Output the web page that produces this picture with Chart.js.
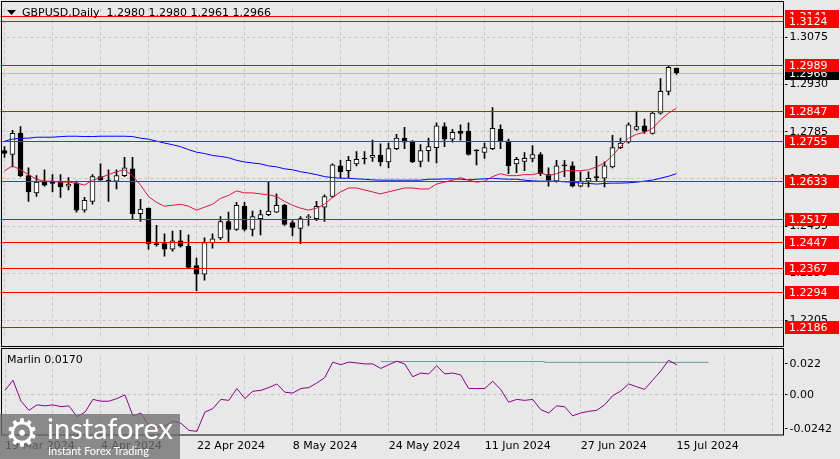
<!DOCTYPE html>
<html><head><meta charset="utf-8">
<script src="https://cdn.jsdelivr.net/npm/chart.js@4.4.1/dist/chart.umd.min.js"></script>
<style>
html,body{margin:0;padding:0;background:#e8e8e8;width:840px;height:459px;overflow:hidden;font-family:"DejaVu Sans",sans-serif;}
#main{position:absolute;left:0;top:0;}
#ind{position:absolute;left:0;top:348px;}
#wm{position:absolute;left:0;top:414px;width:180px;height:45px;background:rgba(112,112,112,0.78);color:#fff;overflow:hidden;}
#wm .gear{position:absolute;left:5px;top:-4px;font-size:38px;line-height:46px;font-family:"DejaVu Sans";}
#wm .brand{position:absolute;left:47px;top:-3px;font-size:29px;line-height:34px;font-family:Lato,"Open Sans",sans-serif;}
#wm .slogan{position:absolute;left:48px;top:30px;font-size:11px;line-height:13px;font-family:Lato,"Open Sans",sans-serif;}
</style></head>
<body>
<canvas id="main" width="840" height="348"></canvas>
<canvas id="ind" width="840" height="111"></canvas>
<div id="wm"><span class="gear">⚙</span><span class="brand">instaforex</span><span class="slogan">Instant Forex Trading</span></div>
<script>
// ---- data ----
const tradingDays = ["2024-03-19","2024-03-20","2024-03-21","2024-03-22","2024-03-25","2024-03-26","2024-03-27","2024-03-28","2024-03-29",
"2024-04-01","2024-04-02","2024-04-03","2024-04-04","2024-04-05","2024-04-08","2024-04-09","2024-04-10","2024-04-11","2024-04-12","2024-04-15","2024-04-16","2024-04-17","2024-04-18","2024-04-19","2024-04-22","2024-04-23","2024-04-24","2024-04-25","2024-04-26","2024-04-29","2024-04-30",
"2024-05-01","2024-05-02","2024-05-03","2024-05-06","2024-05-07","2024-05-08","2024-05-09","2024-05-10","2024-05-13","2024-05-14","2024-05-15","2024-05-16","2024-05-17","2024-05-20","2024-05-21","2024-05-22","2024-05-23","2024-05-24","2024-05-27","2024-05-28","2024-05-29","2024-05-30","2024-05-31",
"2024-06-03","2024-06-04","2024-06-05","2024-06-06","2024-06-07","2024-06-10","2024-06-11","2024-06-12","2024-06-13","2024-06-14","2024-06-17","2024-06-18","2024-06-19","2024-06-20","2024-06-21","2024-06-24","2024-06-25","2024-06-26","2024-06-27","2024-06-28",
"2024-07-01","2024-07-02","2024-07-03","2024-07-04","2024-07-05","2024-07-08","2024-07-09","2024-07-10","2024-07-11","2024-07-12","2024-07-15"];
const futureSlots = ["2024-07-16","2024-07-17","2024-07-18","2024-07-19","2024-07-22","2024-07-23","2024-07-24","2024-07-25","2024-07-26","2024-07-29","2024-07-30","2024-07-31","2024-08-01"];
const dateTickLabels = ["19 Mar 2024","4 Apr 2024","22 Apr 2024","8 May 2024","24 May 2024","11 Jun 2024","27 Jun 2024","15 Jul 2024"];
const dateTickEvery = 12;

const open = [1.2727,1.2715,1.2780,1.2650,1.2597,1.2630,1.2627,1.2630,1.2618,1.2627,
1.2544,1.2571,1.2647,1.2636,1.2633,1.2650,1.2671,1.2533,1.2550,1.2441,
1.2441,1.2424,1.2450,1.2433,1.2374,1.2347,1.2444,1.2459,1.2509,1.2485,
1.2556,1.2485,1.2518,1.2530,1.2538,1.2559,1.2506,1.2488,1.2521,1.2518,
1.2553,1.2586,1.2680,1.2665,1.2686,1.2704,1.2706,1.2712,1.2692,1.2733,
1.2765,1.2756,1.2694,1.2727,1.2736,1.2801,1.2762,1.2786,1.2786,1.2727,
1.2721,1.2733,1.2792,1.2756,1.2686,1.2694,1.2703,1.2715,1.2653,1.2633,
1.2681,1.2680,1.2618,1.2633,1.2647,1.2642,1.2677,1.2736,1.2753,1.2792,
1.2803,1.2780,1.2842,1.2909,1.2980];
const high = [1.2739,1.2789,1.2801,1.2674,1.2650,1.2668,1.2653,1.2653,1.2644,1.2633,
1.2583,1.2653,1.2686,1.2668,1.2668,1.2706,1.2706,1.2577,1.2550,1.2497,
1.2471,1.2480,1.2482,1.2468,1.2397,1.2459,1.2471,1.2524,1.2538,1.2568,
1.2568,1.2541,1.2544,1.2630,1.2594,1.2562,1.2512,1.2524,1.2530,1.2571,
1.2591,1.2686,1.2697,1.2709,1.2724,1.2724,1.2759,1.2748,1.2750,1.2777,
1.2798,1.2758,1.2745,1.2765,1.2812,1.2812,1.2792,1.2806,1.2812,1.2729,
1.2750,1.2859,1.2806,1.2762,1.2706,1.2721,1.2742,1.2721,1.2674,1.2697,
1.2697,1.2692,1.2662,1.2662,1.2709,1.2692,1.2774,1.2765,1.2812,1.2848,
1.2824,1.2845,1.2948,1.2986,1.2980];
const low = [1.2706,1.2677,1.2647,1.2571,1.2586,1.2618,1.2600,1.2583,1.2606,1.2538,
1.2538,1.2562,1.2636,1.2571,1.2609,1.2647,1.2518,1.2509,1.2424,1.2433,
1.2403,1.2418,1.2430,1.2366,1.2297,1.2329,1.2427,1.2453,1.2447,1.2482,
1.2480,1.2465,1.2468,1.2527,1.2536,1.2497,1.2465,1.2441,1.2497,1.2512,
1.2509,1.2583,1.2644,1.2644,1.2680,1.2686,1.2694,1.2680,1.2674,1.2730,
1.2733,1.2690,1.2677,1.2694,1.2689,1.2739,1.2753,1.2759,1.2713,1.2683,
1.2703,1.2730,1.2733,1.2656,1.2659,1.2665,1.2692,1.2650,1.2618,1.2630,
1.2647,1.2615,1.2615,1.2615,1.2633,1.2615,1.2674,1.2733,1.2750,1.2789,
1.2780,1.2777,1.2839,1.2898,1.2961];
const close = [1.2718,1.2780,1.2650,1.2600,1.2630,1.2621,1.2626,1.2615,1.2624,1.2544,
1.2574,1.2647,1.2636,1.2633,1.2650,1.2674,1.2533,1.2547,1.2441,1.2438,
1.2424,1.2450,1.2433,1.2368,1.2347,1.2444,1.2456,1.2509,1.2485,1.2559,
1.2485,1.2524,1.2530,1.2541,1.2559,1.2500,1.2491,1.2518,1.2522,1.2556,
1.2586,1.2683,1.2662,1.2697,1.2700,1.2701,1.2712,1.2692,1.2733,1.2765,
1.2753,1.2692,1.2727,1.2739,1.2803,1.2762,1.2783,1.2780,1.2715,1.2726,
1.2736,1.2795,1.2756,1.2680,1.2700,1.2703,1.2715,1.2656,1.2636,1.2680,
1.2680,1.2618,1.2633,1.2642,1.2643,1.2680,1.2736,1.2750,1.2806,1.2801,
1.2786,1.2842,1.2909,1.2983,1.2966];

const maFast = [1.2665,1.2680,1.2668,1.2653,1.2639,1.2633,1.2633,1.2630,1.2630,1.2627,
1.2621,1.2636,1.2644,1.2653,1.2662,1.2668,1.2650,1.2621,1.2586,1.2568,
1.2556,1.2559,1.2562,1.2556,1.2544,1.2553,1.2562,1.2580,1.2589,1.2603,
1.2597,1.2597,1.2594,1.2591,1.2586,1.2571,1.2559,1.2550,1.2544,1.2550,
1.2562,1.2583,1.2600,1.2612,1.2612,1.2606,1.2600,1.2594,1.2600,1.2606,
1.2612,1.2612,1.2609,1.2609,1.2624,1.2630,1.2636,1.2644,1.2636,1.2630,
1.2633,1.2647,1.2656,1.2650,1.2650,1.2653,1.2653,1.2659,1.2650,1.2656,
1.2665,1.2665,1.2665,1.2668,1.2677,1.2689,1.2712,1.2739,1.2765,1.2777,
1.2783,1.2795,1.2821,1.2842,1.2857];
const maSlow = [1.2756,1.2762,1.2765,1.2765,1.2768,1.2768,1.2768,1.2770,1.2771,1.2771,
1.2770,1.2770,1.2771,1.2771,1.2771,1.2771,1.2770,1.2765,1.2762,1.2756,
1.2750,1.2745,1.2739,1.2730,1.2722,1.2718,1.2712,1.2709,1.2705,1.2697,
1.2692,1.2689,1.2686,1.2680,1.2677,1.2671,1.2668,1.2662,1.2658,1.2653,
1.2647,1.2644,1.2642,1.2642,1.2640,1.2639,1.2637,1.2636,1.2636,1.2636,
1.2636,1.2636,1.2636,1.2639,1.2639,1.2640,1.2640,1.2639,1.2637,1.2639,
1.2640,1.2642,1.2640,1.2639,1.2639,1.2636,1.2634,1.2633,1.2633,1.2633,
1.2631,1.2630,1.2627,1.2626,1.2624,1.2626,1.2627,1.2627,1.2628,1.2630,
1.2633,1.2636,1.2642,1.2648,1.2656];

const marlin = [0.0032,0.0104,-0.0045,-0.0110,-0.0071,-0.0078,-0.0071,-0.0084,-0.0078,-0.0155,
-0.0123,-0.0032,-0.0045,-0.0045,-0.0026,0.0000,-0.0149,-0.0129,-0.0220,-0.0233,
-0.0220,-0.0188,-0.0201,-0.0252,-0.0259,-0.0123,-0.0097,-0.0032,-0.0039,0.0045,
-0.0026,0.0026,0.0032,0.0052,0.0078,0.0019,0.0013,0.0045,0.0052,0.0084,
0.0123,0.0233,0.0214,0.0233,0.0227,0.0220,0.0220,0.0188,0.0214,0.0239,
0.0220,0.0129,0.0155,0.0149,0.0207,0.0149,0.0155,0.0142,0.0045,0.0045,
0.0045,0.0097,0.0039,-0.0052,-0.0032,-0.0039,-0.0032,-0.0104,-0.0129,-0.0078,
-0.0084,-0.0149,-0.0129,-0.0117,-0.0110,-0.0071,-0.0006,0.0026,0.0078,0.0058,
0.0039,0.0104,0.0168,0.0246,0.0214];
const marlinSignal = [...Array(47).fill(null),
0.0237,0.0237,0.0237,0.0237,0.0237,0.0237,0.0237,0.0237,0.0237,0.0237,0.0237,
0.0237,0.0237,0.0237,0.0237,0.0237,0.0237,0.0237,0.0237,0.0237,0.0237,
0.0231,0.0231,0.0231,0.0231,0.0231,0.0231,0.0231,0.0231,0.0231,0.0231,0.0231,
0.0231,0.0231,0.0231,0.0231,0.0231,0.0231,0.0231,0.0231,0.0231,0.0231];

const priceTicks = [1.3075,1.2930,1.2785,1.2640,1.2495,1.2350,1.2205];
const levelLines = [1.3141,1.3124,1.2989,1.2847,1.2755,1.2633,1.2517,1.2447,1.2367,1.2294,1.2186];
const bidPrice = 1.2966;
const titleText = "GBPUSD,Daily  1.2980 1.2980 1.2961 1.2966";
const indTicks = [-0.0242,0,0.022];
const indTickLabels = ["-0.0242","0.00","0.022"];
const indTitle = "Marlin 0.0170";

// ---- build ----
const labels = tradingDays.concat(futureSlots);
const bodies = open.map((o,i)=>[o, close[i]]);
const wicks = low.map((l,i)=>[l, high[i]]);
const FONT = '11px "DejaVu Sans"';
const GRID = '#c4c4c4';
const AXIS_W = 55.5;

const vGrid = c => (c.index % 6 === 0) ? GRID : 'rgba(0,0,0,0)';

const mainPlugin = {
  id:'mainDeco',
  beforeDatasetsDraw(chart){
    const {ctx, chartArea:a, scales:{y}} = chart;
    ctx.save();
    const py = Math.round(y.getPixelForValue(bidPrice))+0.5;
    ctx.strokeStyle = '#bdbdbd'; ctx.lineWidth = 1;
    ctx.beginPath(); ctx.moveTo(a.left, py); ctx.lineTo(a.right-1, py); ctx.stroke();
    ctx.restore();
  },
  afterDatasetsDraw(chart){
    const {ctx, chartArea:a, scales:{y}} = chart;
    ctx.save();
    ctx.strokeStyle = '#ff0000'; ctx.lineWidth = 1;
    levelLines.forEach(v=>{
      const py = Math.round(y.getPixelForValue(v))+0.5;
      ctx.beginPath(); ctx.moveTo(a.left, py); ctx.lineTo(a.right-1, py); ctx.stroke();
    });
    ctx.restore();
  },
  afterDraw(chart){
    const {ctx, chartArea:a, scales:{y}} = chart;
    ctx.save();
    // frame
    ctx.strokeStyle = '#000'; ctx.lineWidth = 1;
    ctx.strokeRect(1.5, 1.5, 782, 345);
    // title
    ctx.fillStyle = '#000';
    ctx.beginPath(); ctx.moveTo(7,10); ctx.lineTo(16,10); ctx.lineTo(11.5,15); ctx.closePath(); ctx.fill();
    ctx.font = FONT; ctx.textBaseline = 'middle'; ctx.textAlign = 'left';
    ctx.fillText(titleText, 22, 13);
    // price labels
    const box = (v, bg) => {
      const py = Math.round(y.getPixelForValue(v));
      ctx.fillStyle = bg; ctx.fillRect(785, py-6, 54, 13);
      ctx.fillStyle = '#fff'; ctx.fillText(v.toFixed(4), 789, py+1);
    };
    box(bidPrice, '#000');
    levelLines.forEach(v=>box(v, '#ff0000'));
    ctx.restore();
  }
};

new Chart(document.getElementById('main'), {
  type:'bar',
  data:{ labels, datasets:[
    {type:'line', data:maFast, borderColor:'#e0143c', borderWidth:1, pointRadius:0, tension:0, order:0},
    {type:'line', data:maSlow, borderColor:'#0000ff', borderWidth:1, pointRadius:0, tension:0, order:1},
    {type:'bar', data:bodies, grouped:false, barThickness:5, minBarLength:1,
      backgroundColor: c => (close[c.dataIndex] >= open[c.dataIndex]) ? '#ffffff' : '#000000',
      borderColor:'#000', borderWidth:1, borderSkipped:false, order:2},
    {type:'bar', data:wicks, grouped:false, barThickness:1, backgroundColor:'#000', borderWidth:0, order:3}
  ]},
  options:{
    responsive:false, animation:false, events:[],
    layout:{padding:{left:0.5, right:0, top:2, bottom:1}},
    plugins:{legend:{display:false}, tooltip:{enabled:false}},
    scales:{
      x:{ offset:true, afterFit:s=>{s.height=0;},
          ticks:{display:false, autoSkip:false},
          grid:{offset:false, drawTicks:false, color:vGrid},
          border:{display:false, dash:[3,3]} },
      y:{ position:'right', min:1.2147, max:1.3163,
          afterBuildTicks:s=>{ s.ticks = priceTicks.map(v=>({value:v})); },
          afterFit:s=>{ s.width = AXIS_W; },
          ticks:{ callback:v=>Number(v).toFixed(4), color:'#000', font:{family:'DejaVu Sans', size:11}, padding:2 },
          grid:{ color:GRID, tickColor:'#000', tickLength:3, tickBorderDash:[] },
          border:{ display:false, dash:[3,3] } }
    }
  },
  plugins:[mainPlugin]
});

const indPlugin = {
  id:'indDeco',
  afterDraw(chart){
    const {ctx} = chart;
    ctx.save();
    ctx.strokeStyle = '#000'; ctx.lineWidth = 1;
    ctx.strokeRect(1.5, 0.5, 782, 86.5);
    ctx.fillStyle = '#000'; ctx.font = FONT; ctx.textBaseline = 'middle';
    ctx.fillText(indTitle, 7, 12);
    ctx.restore();
  }
};

new Chart(document.getElementById('ind'), {
  type:'line',
  data:{ labels, datasets:[
    {data:marlin, borderColor:'#8b008b', borderWidth:1, pointRadius:0, tension:0},
    {data:marlinSignal, borderColor:'#5f9ea0', borderWidth:1, pointRadius:0, stepped:'middle', spanGaps:false}
  ]},
  options:{
    responsive:false, animation:false, events:[],
    layout:{padding:{left:0.5, right:0, top:1, bottom:0}},
    plugins:{legend:{display:false}, tooltip:{enabled:false}},
    scales:{
      x:{ offset:true, afterFit:s=>{s.height=24;},
          ticks:{ autoSkip:false, maxRotation:0, minRotation:0, align:'start', padding:5, color:'#000',
                  font:{family:'DejaVu Sans', size:11},
                  callback:(v,i)=> (i % dateTickEvery === 0 && i/dateTickEvery < dateTickLabels.length) ? dateTickLabels[i/dateTickEvery] : '' },
          grid:{ offset:false, drawTicks:false, color:vGrid },
          border:{ display:false, dash:[3,3] } },
      y:{ position:'right', min:-0.0285, max:0.0272,
          afterBuildTicks:s=>{ s.ticks = indTicks.map(v=>({value:v})); },
          afterFit:s=>{ s.width = AXIS_W; },
          ticks:{ callback:(v,i)=>indTickLabels[i], color:'#000', font:{family:'DejaVu Sans', size:11}, padding:2 },
          grid:{ color:c=> (c.tick && c.tick.value === 0) ? GRID : 'rgba(0,0,0,0)', tickColor:'#000', tickLength:3, tickBorderDash:[] },
          border:{ display:false, dash:[3,3] } }
    }
  },
  plugins:[indPlugin]
});
</script>
</body></html>
